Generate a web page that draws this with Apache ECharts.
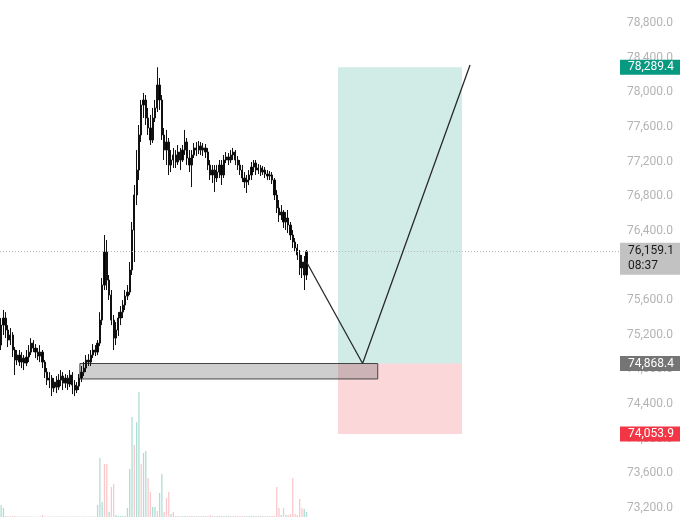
<!DOCTYPE html>
<html><head><meta charset="utf-8">
<script src="https://cdn.jsdelivr.net/npm/echarts@6/dist/echarts.min.js"></script>
<style>html,body{margin:0;padding:0;background:#fff}#c{width:680px;height:517px}</style>
</head><body><div id="c"></div>
<script>
const opens = [75081,75312,75393,75255,75139,75197,75024,74908,74966,74885,
74931,74873,74943,75000,75104,75047,75000,74954,75000,74885,
74769,74677,74700,74585,74654,74596,74677,74723,74642,74700,
74631,74735,74619,74562,74608,74700,74769,74816,74908,74885,
74966,75024,75000,75104,75370,76155,76155,75659,75659,75370,
75162,75255,75393,75462,75543,75647,75693,75948,76814,76814,
77102,77853,77853,77703,77703,77588,77449,77703,78084,77911,
77507,77507,77426,77426,77160,77276,77276,77195,77310,77218,
77333,77426,77241,77160,77276,77357,77333,77380,77333,77357,
77310,77160,77045,77102,77010,77079,77160,77045,77218,77253,
77218,77276,77310,77218,77160,77102,77010,76964,76987,77045,
77137,77183,77102,77126,77079,77102,77056,77033,77045,76987,
76814,76664,76583,76617,76502,76548,76467,76352,76271,76202,
76121,76040,75890,75890];
const closes = [75312,75393,75255,75139,75197,75024,74908,74966,74885,74931,
74873,74943,75000,75104,75047,75000,74954,75000,74885,74769,
74677,74700,74585,74654,74596,74677,74723,74642,74700,74631,
74735,74619,74562,74608,74700,74769,74816,74908,74885,74966,
75024,75000,75104,75370,75774,75774,75832,75832,75370,75162,
75255,75393,75462,75543,75647,75693,75948,76410,76410,77102,
77507,77507,77911,77911,77588,77449,77703,77819,77819,78084,
77911,77333,77333,77160,77218,77218,77195,77310,77218,77333,
77426,77241,77160,77276,77357,77333,77380,77333,77357,77310,
77160,77045,77102,77010,77079,77160,77045,77218,77253,77218,
77276,77310,77218,77160,77102,77010,76964,76987,77045,77137,
77183,77102,77126,77079,77102,77056,77033,77045,76987,76814,
76664,76583,76617,76502,76548,76467,76352,76271,76202,76121,
75971,75971,76040,76159.1];
const lows = [75024,75197,75162,75058,75081,74943,74735,74850,74839,74816,
74793,74839,74885,74966,75000,74931,74908,74885,74816,74700,
74619,74585,74492,74538,74527,74562,74608,74562,74585,74562,
74596,74515,74492,74527,74562,74654,74723,74769,74839,74839,
74931,74954,74966,75070,75312,75717,75717,75601,75312,75024,
75081,75185,75312,75393,75486,75601,75659,75890,76040,76698,
76987,77426,77703,77622,77507,77391,77414,77657,77772,77796,
77449,77218,77160,77045,77079,77126,77126,77160,77102,77195,
77276,77160,77079,76906,77241,77264,77287,77276,77264,77241,
77102,76987,76952,76848,76964,77010,76929,77010,77183,77160,
77183,77218,77160,77102,77045,76964,76895,76837,76929,76987,
77079,77045,77056,77033,77045,77010,76987,76987,76941,76756,
76606,76502,76525,76433,76410,76375,76294,76202,76155,76063,
75890,75855,75717,75832];
const highs = [75393,75486,75462,75312,75278,75231,75058,75024,75024,75000,
74966,75024,75081,75162,75139,75093,75047,75081,75024,74908,
74816,74769,74735,74700,74723,74746,74793,74769,74746,74735,
74793,74769,74677,74654,74746,74839,74885,74966,74977,75024,
75093,75081,75139,75462,75855,76352,76294,75890,75717,75428,
75347,75462,75532,75601,75717,75774,76040,76502,76929,77333,
77622,77911,77992,77969,77819,77738,77819,77911,78289.4,78165,
77969,77588,77565,77472,77333,77357,77333,77391,77357,77391,
77565,77472,77333,77333,77414,77426,77437,77426,77414,77403,
77357,77218,77160,77160,77160,77218,77218,77276,77310,77299,
77333,77357,77333,77264,77218,77160,77079,77045,77102,77195,
77218,77218,77172,77160,77149,77137,77102,77091,77079,77010,
76871,76756,76698,76641,76617,76641,76502,76410,76317,76248,
76179,76121,76109,76179];
const volumes = [12,9,1,1,0.5,1,1,0.5,0.5,0.5,
0.5,0.5,0.5,0.5,0.5,0.5,0.5,0.5,2,0.5,
0.5,0.5,0.5,0.5,0.5,0.5,0.5,0.5,0.5,0.5,
0.5,0.5,0.5,0.5,0.5,0.5,0.5,0.5,0.5,0.5,
0.5,0.5,12,59,15,53,53,5,30,33,
2,1,1,1,1,9,48,100,72,95,
125,53,64,66,39,25,10,10,6,24,
43,5,19,25,3,5,1,1,1,1,
1,1,1,1,1,1,1,1,1,1,
1,2,1,1,1,1,1,1,1,1,
1,1,1,1,1,1,1,1,1,1,
1,1,1,1,1,1,1,1,1,1,
30,9,2,9,2,2,3,39,3,2,
18,9,8,5];

const slotCount = 270;
const yMin = 73200, yMax = 78800, yStep = 400;
const lastPrice = 76159.1, countdown = '08:37';
const entryPrice = 74868.4, targetPrice = 78289.4, stopPrice = 74053.9;
const positionFrom = 147.2, positionTo = 201.2;
const zoneFrom = 34.8, zoneTo = 164.5, zoneTop = 74868.4, zoneBottom = 74690;
const pathX = [133.5, 157.9, 204.7];
const pathY = [76040, 74868.4, 78315];

const UP_VOL = 'rgba(8,153,129,0.33)', DOWN_VOL = 'rgba(242,54,69,0.28)';
const FONT = 'Roboto';
const fmt = v => v.toLocaleString('en-US', {minimumFractionDigits: 1, maximumFractionDigits: 1});
const slots = Array.from({length: slotCount}, (_, i) => String(i));

const candleData = opens.map((o, i) => [o, closes[i], lows[i], highs[i]]);
const volData = volumes.map((v, i) => ({value: v, itemStyle: {color: closes[i] >= opens[i] ? UP_VOL : DOWN_VOL}}));

function tag(price, text, bg, fg) {
  return {
    yAxis: price,
    lineStyle: {color: 'transparent', width: 0},
    label: {
      show: true, position: 'end', distance: 0, formatter: text,
      backgroundColor: bg, color: fg, padding: [1, 7, 0, 8],
      fontSize: 12, lineHeight: 14, fontFamily: FONT
    }
  };
}

const chart = echarts.init(document.getElementById('c'), null, {renderer: 'canvas'});
chart.setOption({
  animation: false,
  backgroundColor: '#fff',
  grid: [
    {left: 0, right: 60, top: 23, bottom: 9},
    {left: 0, right: 60, bottom: 0, height: 140}
  ],
  xAxis: [
    {type: 'category', data: slots, gridIndex: 0, show: false},
    {type: 'value', gridIndex: 0, min: 0, max: slotCount, show: false},
    {type: 'category', data: slots, gridIndex: 1, show: false}
  ],
  yAxis: [
    {type: 'value', gridIndex: 0, position: 'right', min: yMin, max: yMax, interval: yStep,
     axisLine: {show: false}, axisTick: {show: false}, splitLine: {show: false},
     axisLabel: {show: true, align: 'right', margin: 53, color: '#b4b4b4', fontSize: 12, fontFamily: FONT,
       showMinLabel: true, showMaxLabel: true, formatter: v => fmt(v)}},
    {type: 'value', gridIndex: 1, min: 0, max: 140, show: false}
  ],
  series: [
    {
      type: 'bar', xAxisIndex: 2, yAxisIndex: 1, data: volData, barWidth: 1.3, z: 1, silent: true
    },
    {
      type: 'line', xAxisIndex: 1, yAxisIndex: 0, z: 1, silent: true, symbol: 'none',
      data: [],
      markArea: {
        silent: true,
        data: [
          [{xAxis: positionFrom, yAxis: targetPrice, itemStyle: {color: 'rgba(8,153,129,0.19)'}}, {xAxis: positionTo, yAxis: entryPrice}],
          [{xAxis: positionFrom, yAxis: entryPrice, itemStyle: {color: 'rgba(242,54,69,0.2)'}}, {xAxis: positionTo, yAxis: stopPrice}],
          [{xAxis: zoneFrom, yAxis: zoneTop, itemStyle: {color: 'rgba(120,120,120,0.36)', borderColor: '#444', borderWidth: 1}}, {xAxis: zoneTo, yAxis: zoneBottom}]
        ]
      }
    },
    {
      type: 'candlestick', xAxisIndex: 0, yAxisIndex: 0, data: candleData, barWidth: 1.7, z: 3,
      itemStyle: {color: '#000', color0: '#000', borderColor: '#111', borderColor0: '#111', borderWidth: 1},
      markLine: {
        silent: true, symbol: ['none', 'none'], animation: false,
        data: [
          {
            yAxis: lastPrice,
            lineStyle: {type: [1, 2], color: '#b8b8b8', width: 1},
            label: {
              show: true, position: 'end', distance: 0, offset: [0, 7],
              formatter: fmt(lastPrice) + '\n' + countdown,
              backgroundColor: '#c2c2c2', color: '#1a1a1a', padding: [1, 7, 1, 8],
              fontSize: 12, lineHeight: 15, fontFamily: FONT
            }
          },
          tag(targetPrice, fmt(targetPrice), '#089981', '#fff'),
          tag(entryPrice, fmt(entryPrice), '#757575', '#fff'),
          tag(stopPrice, fmt(stopPrice), '#f23645', '#fff')
        ]
      }
    },
    {
      type: 'line', xAxisIndex: 1, yAxisIndex: 0, z: 5, silent: true, symbol: 'none',
      data: pathX.map((x, i) => [x, pathY[i]]),
      lineStyle: {color: '#2a2a2a', width: 1.3}
    }
  ]
});
</script></body></html>
